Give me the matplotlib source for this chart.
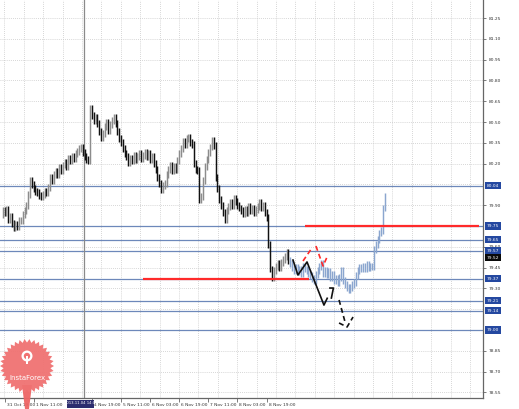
import numpy as np
import matplotlib
matplotlib.use("Agg")
import matplotlib.pyplot as plt
from matplotlib.transforms import blended_transform_factory, ScaledTranslation
from matplotlib.patches import Polygon, Rectangle, Circle

# --- hourly closes (history, black/gray bars) ---
hist_close = [
    79.83, 79.86, 79.85, 79.87, 79.80, 79.82, 79.77, 79.74, 79.76, 79.75,
    79.79, 79.79, 79.83, 79.86, 79.90, 79.98, 80.08, 80.05, 80.02, 80.00,
    79.99, 79.97, 79.96, 79.98, 80.00, 79.99, 80.03, 80.10, 80.08, 80.12,
    80.14, 80.12, 80.17, 80.15, 80.19, 80.21, 80.18, 80.24, 80.22, 80.25,
    80.24, 80.27, 80.29, 80.31, 80.32, 80.28, 80.25, 80.23, 80.22, 80.60,
    80.55, 80.51, 80.53, 80.49, 80.43, 80.39, 80.42, 80.47, 80.50, 80.44,
    80.48, 80.51, 80.53, 80.49, 80.43, 80.38, 80.35, 80.31, 80.27, 80.25,
    80.21, 80.24, 80.22, 80.26, 80.23, 80.25, 80.27, 80.24, 80.26, 80.28,
    80.25, 80.27, 80.23, 80.25, 80.20, 80.16, 80.10, 80.06, 80.01, 80.04,
    80.06, 80.12, 80.16, 80.19, 80.15, 80.18, 80.16, 80.22, 80.27, 80.31,
    80.36, 80.34, 80.38, 80.39, 80.35, 80.34, 80.20, 80.16, 80.15, 79.94,
    79.96, 80.08, 80.18, 80.23, 80.28, 80.32, 80.37, 80.33, 80.10, 80.02,
    79.94, 79.90, 79.85, 79.80, 79.86, 79.89, 79.92, 79.90, 79.95, 79.93,
    79.90, 79.88, 79.86, 79.84, 79.87, 79.85, 79.89, 79.86, 79.88, 79.85,
    79.87, 79.89, 79.92, 79.88, 79.90, 79.85, 79.81, 79.62, 79.44, 79.38,
    79.43, 79.46, 79.48, 79.45, 79.49, 79.51, 79.53, 79.56, 79.50,
]

# --- hourly closes after the forecast (blue bars) ---
new_close = [
    79.48, 79.45, 79.43, 79.45, 79.42, 79.44, 79.41, 79.46, 79.44, 79.43,
    79.41, 79.39, 79.37, 79.36, 79.40, 79.43, 79.46, 79.48, 79.41, 79.43,
    79.40, 79.42, 79.38, 79.40, 79.36, 79.37, 79.34, 79.38, 79.43, 79.36,
    79.33, 79.31, 79.29, 79.31, 79.33, 79.34, 79.39, 79.43, 79.45, 79.44,
    79.46, 79.44, 79.47, 79.45, 79.46, 79.46, 79.58, 79.62, 79.65, 79.70,
    79.72, 79.88, 79.96,
]

# horizontal levels (blue lines with price boxes)
levels = [80.04, 79.75, 79.65, 79.57, 79.37, 79.21, 79.14, 79.00]
bid_price = 79.52
grid_prices = [81.25, 81.10, 80.95, 80.80, 80.65, 80.50, 80.35, 80.20, 80.05,
               79.90, 79.75, 79.60, 79.45, 79.30, 79.15, 79.00, 78.85, 78.70, 78.55]
hidden_grid_labels = [80.05, 79.75, 79.15, 79.00]

# time axis (bar index, label)
time_ticks = [-14, 2, 18, 50, 66, 82, 98, 114, 130, 146]
time_labels = ["31 Oct 03:00", "31 Oct 19:00", "1 Nov 11:00",
               "4 Nov 19:00", "5 Nov 11:00", "6 Nov 03:00", "6 Nov 19:00",
               "7 Nov 11:00", "8 Nov 03:00", "8 Nov 19:00"]
cursor_bar = 45.7
cursor_label = "2013.11.04 14:00"

# analyst drawings (bar index, price)
red_resist = (167, 262.7, 79.75)
red_support = (78, 169.3, 79.37)
zig_solid = ([160.5, 163.2, 168.2, 177.5, 179.3], [79.505, 79.397, 79.491, 79.180, 79.229])
zig_head = ([180.8, 182.7, 181.6], [79.303, 79.303, 79.231])
zig_dash = ([185.8, 189.1], [79.217, 79.058])
zig_dash_head = ([185.8, 190.2, 193.5], [79.051, 79.022, 79.094])
red_dash_a = ([166.0, 170.9], [79.498, 79.592])
red_dash_b = ([173.1, 177.0, 179.7], [79.606, 79.462, 79.541])

W, H = 519, 409
fig = plt.figure(figsize=(W / 100, H / 100), dpi=100)
fig.patch.set_facecolor("white")
ax = fig.add_axes([0, 11 / H, 483 / W, 398 / H])

# dotted grid
for p in grid_prices:
    ax.axhline(p, color="#c9c9c9", lw=0.6, ls=(0, (1, 1.5)), zorder=0)
for k in range(26):
    ax.axvline((4.5 + 19.4 * k) / 1.82 - 0.5, color="#c9c9c9", lw=0.6,
               ls=(0, (1, 1.5)), zorder=0)

# level lines
for lv in levels:
    ax.axhline(lv, color="#6d88ba", lw=0.9, zorder=1)

# cursor vertical line
ax.axvline(cursor_bar, color="#8a8a8a", lw=0.9, zorder=1)

# bars
closes = hist_close + new_close
n_hist = len(hist_close)
for i in range(1, len(closes)):
    lo = min(closes[i - 1], closes[i]) - 0.025
    hi = max(closes[i - 1], closes[i]) + 0.025
    if i >= n_hist:
        col = "#8ba6cf"
    else:
        col = "#111111" if closes[i] < closes[i - 1] else "#8c8c8c"
    ax.vlines(i, lo, hi, color=col, lw=1.05, zorder=3)

# red levels
ax.hlines(red_resist[2], red_resist[0], red_resist[1], color="#ff2a2a", lw=1.6, zorder=4)
ax.hlines(red_support[2], red_support[0], red_support[1], color="#ff2a2a", lw=1.6, zorder=4)

# zigzag drawings
ax.plot(*zig_solid, color="#111111", lw=1.2, zorder=5)
ax.plot(*zig_head, color="#111111", lw=1.2, zorder=5)
ax.plot(*zig_dash, color="#111111", lw=1.2, ls=(0, (3, 2)), zorder=5)
ax.plot(*zig_dash_head, color="#111111", lw=1.2, ls=(0, (3, 2)), zorder=5)
ax.plot(*red_dash_a, color="#ff2a2a", lw=1.2, ls=(0, (3, 2)), zorder=5)
ax.plot(*red_dash_b, color="#ff2a2a", lw=1.2, ls=(0, (3, 2)), zorder=5)

# axes frame
for s in ["top", "left"]:
    ax.spines[s].set_visible(False)
for s in ["right", "bottom"]:
    ax.spines[s].set_color("#666666")
    ax.spines[s].set_linewidth(0.9)

# right price scale
ax.yaxis.tick_right()
shown = [p for p in grid_prices if p not in hidden_grid_labels]
ax.set_yticks(shown)
ax.set_yticklabels([f"{p:.2f}" for p in shown])
ax.tick_params(axis="y", length=2, width=0.6, color="#666666", pad=2,
               labelsize=3.2, labelcolor="#333333")

tr = blended_transform_factory(ax.transAxes, ax.transData)
for lv in levels:
    ax.text(1.008, lv, f"{lv:.2f}", transform=tr, fontsize=3.2, color="white",
            va="center", ha="left", clip_on=False, zorder=10,
            bbox=dict(boxstyle="square,pad=0.35", fc="#2448a0", ec="none"))
ax.text(1.008, bid_price, f"{bid_price:.2f}", transform=tr, fontsize=3.2, color="white",
        va="center", ha="left", clip_on=False, zorder=10,
        bbox=dict(boxstyle="square,pad=0.35", fc="#0a0a0a", ec="none"))

# time scale
ax.set_xticks(time_ticks)
ax.set_xticklabels(time_labels)
ax.tick_params(axis="x", length=3, width=0.6, color="#666666", pad=0.5,
               labelsize=3.2, labelcolor="#333333")
offset = ScaledTranslation(2 / 100, 0, fig.dpi_scale_trans)
for lab in ax.get_xticklabels():
    lab.set_ha("left")
    lab.set_transform(lab.get_transform() + offset)

# limits last, so the off-screen tick does not widen the view
ax.set_xlim(-0.5, 264.9)
ax.set_ylim(78.51, 81.38)

# overlay for logo and cursor label
ov = fig.add_axes([0, 0, 1, 1], zorder=20)
ov.set_xlim(0, W)
ov.set_ylim(H, 0)
ov.axis("off")
ov.patch.set_alpha(0)

cx = (cursor_bar + 0.5) * 1.82
ov.add_patch(Rectangle((cx - 17, 399.5), 27, 8, fc="#2c2c6e", ec="none"))
ov.text(cx - 3.5, 403.5, cursor_label, color="white", fontsize=2.7, ha="center", va="center")

# InstaForex badge
n_teeth = 34
ang = np.linspace(0, 2 * np.pi, 2 * n_teeth, endpoint=False)
rad = np.where(np.arange(2 * n_teeth) % 2 == 0, 27, 23.5)
pts = np.column_stack([27 + rad * np.cos(ang), 366 + rad * np.sin(ang)])
ov.add_patch(Polygon([[22, 385], [32, 385], [29, 409], [25, 409]], fc="#ee6464", ec="none", alpha=0.95))
ov.add_patch(Polygon(pts, closed=True, fc="#f07272", ec="none", alpha=0.95))
ov.add_patch(Circle((27, 356), 5.5, fc="white", ec="none"))
ov.add_patch(Circle((27, 356), 3.2, fc="#f07272", ec="none"))
ov.add_patch(Rectangle((26, 356), 2, 8, fc="white", ec="none"))
ov.text(27, 378, "InstaForex", color="white", fontsize=5, ha="center", va="center")

fig.savefig("out.png", dpi=100, facecolor="white")
